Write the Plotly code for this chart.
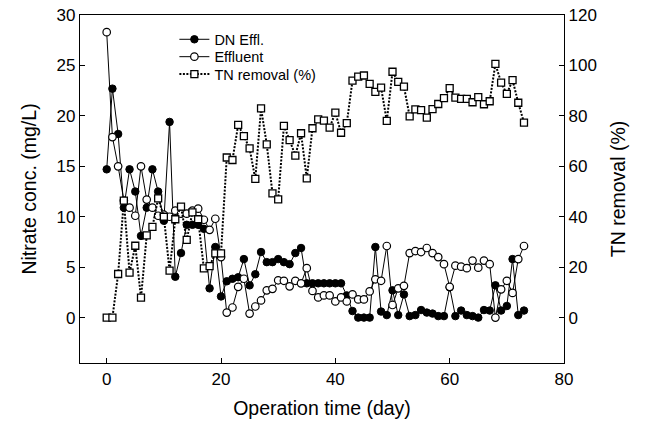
import plotly.graph_objects as go

days = list(range(0, 74))

dn_effl = [14.7, 22.7, 18.2, 10.9, 14.7, 12.5, 8.1, 10.9, 14.7, 12.5,
           9.6, 19.4, 4.05, 6.4, 9.2, 9.2, 9.2, 8.8, 2.9, 7.0,
           2.1, 3.6, 3.85, 4.0, 5.8, 3.2, 4.3, 6.5, 5.5, 5.5,
           5.8, 5.5, 5.3, 6.4, 6.9, 3.4, 3.4, 3.4, 3.4, 3.4,
           3.4, 3.4, 2.2, 0.65, 0.0, 0.0, 0.0, 7.0, 0.6, 0.25,
           2.7, 0.25, 2.3, 0.15, 0.25, 0.75, 0.5, 0.4, 0.15, 0.15,
           3.0, 0.15, 0.7, 0.25, 0.15, 0.0, 0.75, 0.7, 3.2, 0.7,
           1.15, 5.8, 0.25, 0.7]

effluent = [28.3, 17.9, 15.0, 11.6, 10.9, 10.1, 15.0, 11.7, 10.9, 10.1,
            10.2, 10.0, 10.6, 10.3, 10.3, 10.6, 10.8, 9.7, 8.7, 9.8,
            6.0, 0.5, 1.0, 3.05, 3.85, 0.4, 1.1, 1.7, 2.7, 2.85,
            3.7, 3.65, 3.1, 3.65, 3.4, 4.9, 2.65, 2.0, 2.2, 2.2,
            1.6, 2.0, 1.6, 2.3, 1.8, 1.8, 2.6, 3.8, 3.65, 7.1,
            1.25, 2.9, 3.15, 6.4, 6.6, 6.5, 6.9, 6.4, 6.0, 5.3,
            3.05, 5.15, 5.05, 4.9, 5.65, 4.95, 5.65, 5.3, 0.0, 2.8,
            3.65, 2.45, 5.8, 7.1]

tn_removal = [0, 0, 17.3, 46.4, 17.8, 28.5, 7.9, 32.6, 36.0, 47.3,
              40.0, 18.6, 39.0, 44.0, 30.8, 41.7, 39.0, 19.5, 20.4, 25.5,
              25.5, 63.5, 62.5, 76.4, 72.0, 67.1, 55.0, 83.0, 68.7, 49.3,
              46.9, 76.0, 70.4, 64.2, 73.1, 55.2, 75.1, 78.6, 78.1, 75.3,
              81.3, 73.3, 77.1, 94.0, 95.6, 96.0, 92.7, 89.5, 91.2, 78.0,
              97.5, 93.5, 91.6, 79.8, 82.6, 82.3, 79.3, 82.7, 84.7, 87.0,
              91.0, 87.2, 86.7, 86.7, 85.4, 87.4, 84.6, 85.8, 100.6, 93.2,
              88.7, 94.2, 85.2, 77.3]

x_ticks = [0, 20, 40, 60, 80]
y_ticks = [0, 5, 10, 15, 20, 25, 30]
y2_ticks = [0, 20, 40, 60, 80, 100, 120]

FONT = "Liberation Sans, Arial, sans-serif"

fig = go.Figure()
fig.add_trace(go.Scatter(
    x=days, y=dn_effl, name="DN Effl.", mode="lines+markers",
    legend="legend",
    line=dict(color="black", width=1),
    marker=dict(symbol="circle", size=7.5, color="black",
                line=dict(color="black", width=1))))
fig.add_trace(go.Scatter(
    x=days, y=effluent, name="Effluent", mode="lines+markers",
    legend="legend2",
    line=dict(color="black", width=1),
    marker=dict(symbol="circle", size=7.5, color="white",
                line=dict(color="black", width=1.2))))
fig.add_trace(go.Scatter(
    x=days, y=tn_removal, name="TN removal (%)", mode="lines+markers",
    yaxis="y2", legend="legend3",
    line=dict(color="black", width=2, dash="2px,1.5px"),
    marker=dict(symbol="square", size=7, color="white",
                line=dict(color="black", width=1.3))))

axis_common = dict(
    showgrid=False, zeroline=False, showline=True, linecolor="black",
    linewidth=1.3, ticks="inside", ticklen=5, tickwidth=1.2,
    tickcolor="black", tickfont=dict(family=FONT, size=17, color="black"),
    automargin=False,
)

leg_common = dict(xanchor="left", yanchor="middle",
                  bgcolor="rgba(0,0,0,0)", borderwidth=0,
                  font=dict(family=FONT, size=14.5, color="black"))
leg_x = 0.195

fig.update_layout(
    width=646, height=423,
    margin=dict(l=80, r=82, t=15, b=60),
    paper_bgcolor="white", plot_bgcolor="white",
    font=dict(family=FONT, color="black"),
    showlegend=True,
    legend=dict(x=leg_x, y=0.930, **leg_common),
    legend2=dict(x=leg_x, y=0.880, **leg_common),
    legend3=dict(x=leg_x, y=0.830, **leg_common),
    xaxis=dict(range=[-4.67, 80], tickvals=x_ticks, mirror=True,
               title=dict(text="Operation time (day)",
                          font=dict(family=FONT, size=19.5, color="black"),
                          standoff=13),
               **axis_common),
    yaxis=dict(range=[-4.5, 30], tickvals=y_ticks,
               title=dict(text="Nitrate conc. (mg/L)",
                          font=dict(family=FONT, size=19.5, color="black"),
                          standoff=14),
               **axis_common),
    yaxis2=dict(range=[-18, 120], tickvals=y2_ticks, overlaying="y",
                side="right",
                title=dict(text="TN removal (%)",
                           font=dict(family=FONT, size=19.5, color="black"),
                           standoff=15),
                **axis_common),
)

fig.write_html("out.html")
